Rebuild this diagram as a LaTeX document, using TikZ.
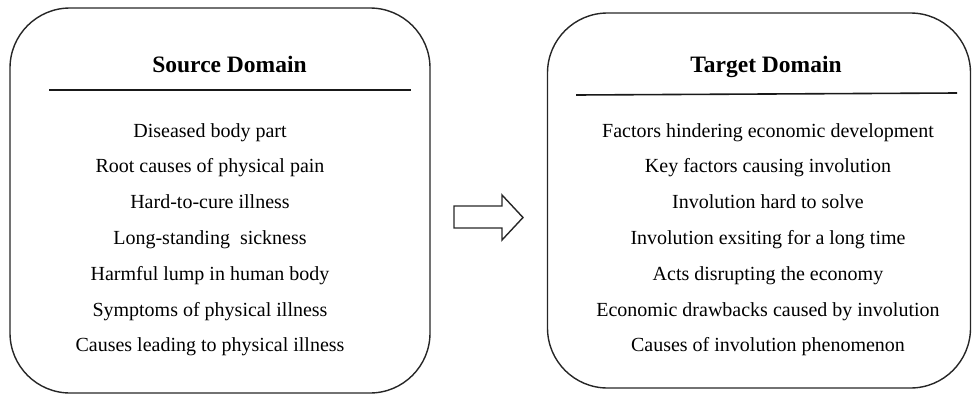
\documentclass[tikz,border=0pt]{standalone}
\usepackage{fontspec}
\setmainfont{Liberation Serif}
\begin{document}
\begin{tikzpicture}[x=1pt,y=-1pt,
  domainbox/.style={draw=black!85, line width=1.4pt, rounded corners=60pt, minimum width=#1, minimum height=380pt, inner sep=0pt},
  titletext/.style={anchor=base, font=\fontsize{23.5}{28}\selectfont\bfseries},
  itemtext/.style={anchor=base, font=\fontsize{20}{24}\selectfont},
  rulel/.style={line width=1.6pt, black!90}]
\useasboundingbox (0,0) rectangle (972,394);
\node[domainbox=420pt, minimum height=385pt] (src) at (220,200.5) {};
\node[domainbox=423pt, minimum height=375pt] (tgt) at (759,200.5) {};
\node[titletext] (st) at (229.5,72) {Source Domain};
\node[titletext] (tt) at (766,72) {Target Domain};
\coordinate (sl1) at (49,90); \coordinate (sl2) at (411,90);
\coordinate (tl1) at (576,95); \coordinate (tl2) at (957,93);
\draw[rulel] (sl1) -- (sl2);
\draw[rulel] (tl1) -- (tl2);
\foreach \t [count=\i] in {Diseased body part, Root causes of physical pain, Hard-to-cure illness, Long-standing\ \ sickness, Harmful lump in human body, Symptoms of physical illness, Causes leading to physical illness}{
  \node[itemtext] (s\i) at (210,{137+35.8*(\i-1)}) {\t};
}
\foreach \t [count=\i] in {Factors hindering economic development, Key factors causing involution, Involution hard to solve, Involution exsiting for a long time, Acts disrupting the economy, Economic drawbacks caused by involution, Causes of involution phenomenon}{
  \node[itemtext] (t\i) at (768,{137+35.8*(\i-1)}) {\t};
}
\draw[line width=1.4pt, black!85, line join=miter] (454,206) -- (502,206) -- (502,195) -- (523,217.5) -- (502,240) -- (502,228) -- (454,228) -- cycle;
\end{tikzpicture}
\end{document}
